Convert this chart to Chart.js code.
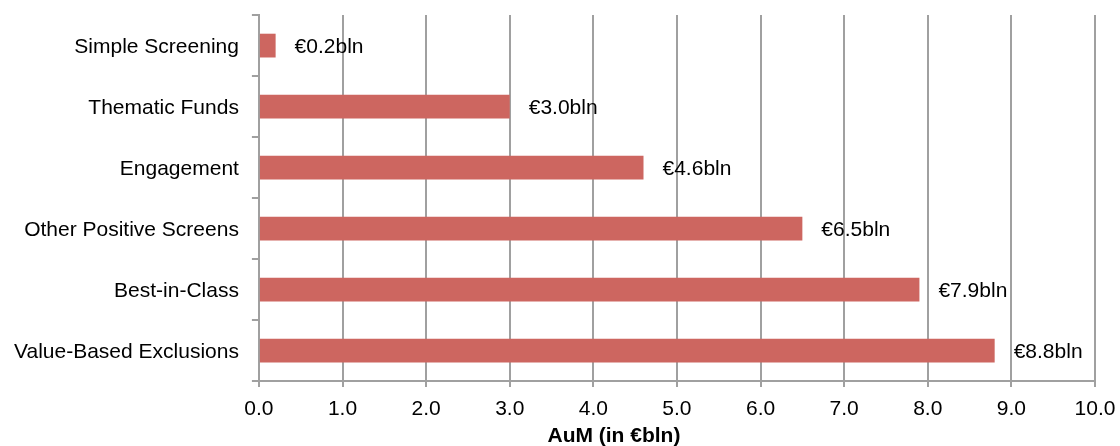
<!DOCTYPE html>
<html>
<head>
<meta charset="utf-8">
<script src="https://cdn.jsdelivr.net/npm/chart.js@4.4.1/dist/chart.umd.min.js"></script>
<style>
  html, body { margin: 0; padding: 0; background: #fff; }
  #wrap { width: 1120px; height: 446px; }
</style>
</head>
<body>
<div id="wrap"><canvas id="aumChart"></canvas></div>
<script>
// data
const categories = ['Simple Screening', 'Thematic Funds', 'Engagement', 'Other Positive Screens', 'Best-in-Class', 'Value-Based Exclusions'];
const aumValues = [0.2, 3.0, 4.6, 6.5, 7.9, 8.8];
const xMin = 0;
const xMax = 10;
const xStep = 1;
const axisTitle = 'AuM (in €bln)';

const FONT = '"Liberation Sans", Arial, sans-serif';
const gridGray = '#a0a0a0';
const barRed = 'rgb(205,102,96)';

// value labels to the right of each bar
const valueLabels = {
  id: 'valueLabels',
  afterDatasetsDraw(chart) {
    const ctx = chart.ctx;
    const meta = chart.getDatasetMeta(0);
    ctx.save();
    ctx.font = '21px ' + FONT;
    ctx.fillStyle = '#000';
    ctx.textAlign = 'left';
    ctx.textBaseline = 'middle';
    meta.data.forEach((bar, i) => {
      ctx.fillText('€' + aumValues[i].toFixed(1) + 'bln', bar.x + 19, bar.y + 2);
    });
    ctx.restore();
  }
};

// axis title, sits a bit left of the plot centre like the original
const bottomTitle = {
  id: 'bottomTitle',
  afterDraw(chart) {
    const ctx = chart.ctx;
    const area = chart.chartArea;
    ctx.save();
    ctx.font = 'bold 21px ' + FONT;
    ctx.fillStyle = '#000';
    ctx.textAlign = 'center';
    ctx.textBaseline = 'alphabetic';
    ctx.fillText(axisTitle, (area.left + area.right) / 2 - 63, chart.height - 4);
    ctx.restore();
  }
};

const ctx = document.getElementById('aumChart').getContext('2d');
const aumChart = new Chart(ctx, {
  type: 'bar',
  data: {
    labels: categories,
    datasets: [{
      label: 'AuM',
      data: aumValues,
      backgroundColor: barRed,
      borderWidth: 0,
      barPercentage: 0.39,
      categoryPercentage: 1.0
    }]
  },
  options: {
    indexAxis: 'y',
    responsive: true,
    maintainAspectRatio: false,
    animation: false,
    layout: {
      padding: { top: 15, left: 1, right: 25, bottom: 15 }
    },
    plugins: {
      legend: { display: false },
      tooltip: { enabled: false }
    },
    scales: {
      x: {
        min: xMin,
        max: xMax,
        afterFit: function(scale) { scale.paddingRight = 22; },
        ticks: {
          stepSize: xStep,
          padding: 4,
          color: '#000',
          font: { family: FONT, size: 21, lineHeight: 1.71 },
          callback: function(value) { return Number(value).toFixed(1); }
        },
        grid: {
          color: gridGray,
          lineWidth: 2,
          drawTicks: true,
          tickLength: 6
        },
        border: { display: true, color: gridGray, width: 2 }
      },
      y: {
        ticks: {
          padding: 13,
          labelOffset: 2,
          color: '#000',
          font: { family: FONT, size: 21, lineHeight: 0.2 }
        },
        grid: {
          color: gridGray,
          lineWidth: 2,
          drawOnChartArea: false,
          drawTicks: true,
          tickLength: 7,
          offset: true
        },
        border: { display: true, color: gridGray, width: 2 }
      }
    }
  },
  plugins: [valueLabels, bottomTitle]
});
</script>
</body>
</html>
